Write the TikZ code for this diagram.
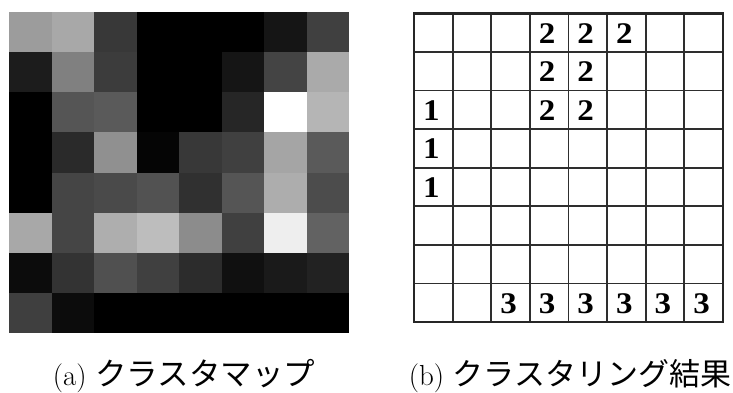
\documentclass[tikz,border=0pt]{standalone}
\usepackage{fontspec}
\newfontfamily\jpfont{Noto Sans CJK JP}
\newfontfamily\numfont[FakeStretch=1.1]{Liberation Serif Bold}

\begin{document}
\begin{tikzpicture}[x=1pt, y=-1pt, every node/.style={inner sep=0pt}]

    \useasboundingbox (0, 0) rectangle (733, 392);

    % (a) クラスタマップ: 8x8 の濃淡セル
    \foreach \row [count=\j] in {
        {156,168,56,0,0,0,21,64},
        {28,128,60,0,0,21,68,170},
        {0,85,90,0,0,38,255,181},
        {0,42,144,5,56,64,165,90},
        {0,69,74,82,48,85,173,76},
        {168,69,174,189,140,64,238,98},
        {12,51,80,64,44,16,26,34},
        {63,12,0,0,0,0,0,0}} {
      \foreach \g [count=\i] in \row {
        \definecolor{cellc}{RGB}{\g,\g,\g}
        \fill[cellc] ({9 + 42.5*(\i-1)}, {12 + 40.16*(\j-1)}) rectangle ++(42.6, 40.3);
      }
    }

    % (b) クラスタリング結果: 格子
    \foreach \k in {1,...,7} {
      \draw[line width=1.8pt, black!82] ({414 + 38.6*\k}, 13.3) -- ({414 + 38.6*\k}, 322);
      \draw[line width=1.8pt, black!82] (414, {13.3 + 38.6*\k}) -- (723, {13.3 + 38.6*\k});
    }
    \draw[line width=2.6pt, black!85] (414, 13.3) rectangle (723, 322);

    % クラスタ番号 (列/行/番号)
    \foreach \c/\r/\v in {4/1/2, 5/1/2, 6/1/2, 4/2/2, 5/2/2, 1/3/1, 4/3/2, 5/3/2,
                          1/4/1, 1/5/1, 3/8/3, 4/8/3, 5/8/3, 6/8/3, 7/8/3, 8/8/3} {
      \node[font=\numfont\fontsize{30}{31}\selectfont]
        (n-\c-\r) at ({414 + 38.6*(\c-0.5) - 2}, {13.3 + 38.6*(\r-0.5) + 0.5}) {\v};
    }

    % キャプション
    \node[anchor=base, font=\fontsize{29}{32}\selectfont] (capa) at (184, 385)
      {(a) {\jpfont\fontsize{31.5}{32}\selectfont クラスタマップ}};
    \node[anchor=base, font=\fontsize{29}{32}\selectfont] (capb) at (570, 385)
      {(b) {\jpfont\fontsize{31}{32}\selectfont クラスタリング結果}};

  \end{tikzpicture}
\end{document}
